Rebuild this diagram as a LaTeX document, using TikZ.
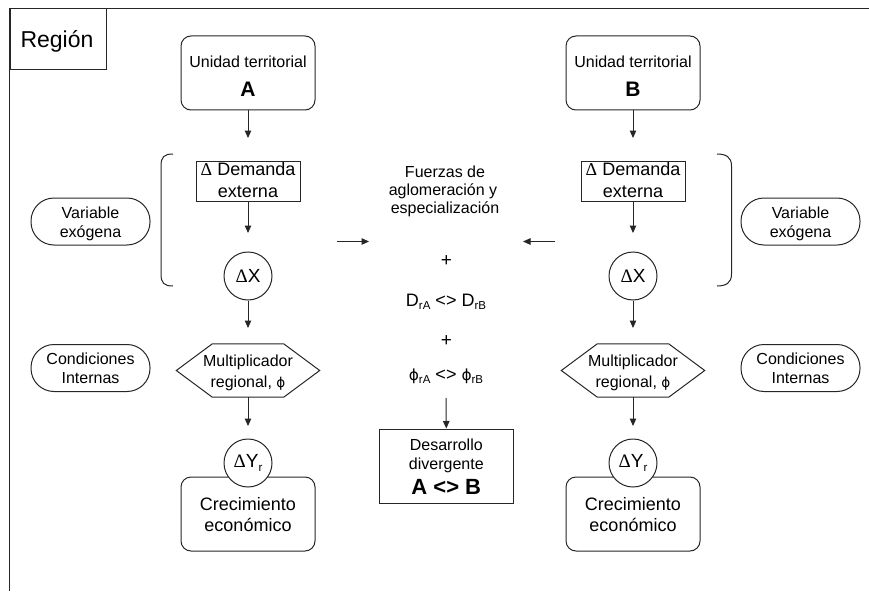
\documentclass[tikz,border=0pt]{standalone}
\usepackage{fontspec}
\setmainfont{Liberation Sans}
\newfontfamily\grkfont{Liberation Serif}
\newfontfamily\phifont{DejaVu Sans}
\usetikzlibrary{arrows.meta,calc}

\newcommand{\fsz}[1]{\fontsize{#1}{#1}\selectfont}
\newcommand{\myDelta}{{\grkfont Δ}}
\newcommand{\myPhi}{{\phifont\fontsize{0.85em}{1em}\selectfont ϕ}}
\newcommand{\lowsub}[1]{\raisebox{-3.5pt}{\fontsize{11.5}{11.5}\selectfont #1}}

\begin{document}
\begin{tikzpicture}[x=1pt,y=-1pt,
  ln/.style={line width=1pt,draw=black!85},
  arr/.style={ln,-{Triangle[length=7.5pt,width=6.5pt]}},
  unitbox/.style={ln,rounded corners=10pt,minimum width=134pt,minimum height=74pt,inner sep=0pt},
  sqbox/.style={ln,minimum width=104pt,minimum height=40pt,inner sep=0pt},
  pill/.style={ln,rounded corners=23pt,minimum width=119pt,minimum height=47pt,inner sep=0pt},
  crc/.style={ln,circle,fill=white,minimum size=48pt,inner sep=0pt,font=\fsz{19}},
  hexa/.style={minimum width=143pt,minimum height=53pt,inner sep=0pt},
  txt/.style={inner sep=0pt,anchor=base,font=\fsz{16}},
  big/.style={font=\fsz{18}},
]
\useasboundingbox (0,0) rectangle (869,591);

% frame of the region
\draw[ln] (869,8.5) -- (9.5,8.5) -- (9.5,591);
\node[ln,anchor=north west,minimum width=96pt,minimum height=61pt,inner sep=0pt] (reg) at (9.5,8.5) {};
\node[txt,font=\fsz{23}] (regt) at (57,48) {Región};

% ---------- column A ----------
\node[unitbox] (uA) at (248,73) {};
\node[txt] (uAt) at (248,68) {Unidad territorial};
\node[txt,font=\fsz{21}\bfseries] (uAl) at (248,97) {A};
\coordinate (dAin) at (248,138);
\draw[arr] (uA.south) -- (dAin);

\node[sqbox] (dA) at (248,181) {};
\node[txt,big] (dAt1) at (248,175) {\myDelta\ Demanda};
\node[txt,big] (dAt2) at (248,197) {externa};
\coordinate (xAin) at (248,233);
\draw[arr] (dA.south) -- (xAin);

\node[crc] (xA) at (248,276) {\myDelta X};
\coordinate (mAin) at (248,328);
\draw[arr] (xA.south) -- (mAin);

\node[hexa] (mA) at (248,370.5) {};
\draw[ln] (mA.west) -- ([xshift=36pt]mA.north west) -- ([xshift=-36pt]mA.north east)
  -- (mA.east) -- ([xshift=-36pt]mA.south east) -- ([xshift=36pt]mA.south west) -- cycle;
\node[txt] (mAt1) at (248,366) {Multiplicador};
\node[txt] (mAt2) at (248,387) {regional, \myPhi};
\coordinate (yAin) at (248,426);
\draw[arr] (mA.south) -- (yAin);

\node[unitbox] (cA) at (248,514) {};
\node[txt,big] (cAt1) at (248,510) {Crecimiento};
\node[txt,big] (cAt2) at (248,531) {económico};
\node[crc] (yA) at (248,463) {\myDelta Y\lowsub{r}};

% bracket and side labels A
\draw[ln] (173,154) .. controls (164,154) and (161,157) .. (161,166) -- (161,274)
  .. controls (161,283) and (164,286) .. (173,286);
\node[pill] (vA) at (90.5,221.5) {};
\node[txt] (vAt1) at (90.5,218) {Variable};
\node[txt] (vAt2) at (90.5,237) {exógena};
\node[pill] (ciA) at (90.5,368) {};
\node[txt] (ciAt1) at (90.5,364.5) {Condiciones};
\node[txt] (ciAt2) at (90.5,383) {Internas};

% ---------- column B ----------
\node[unitbox] (uB) at (633,73) {};
\node[txt] (uBt) at (633,68) {Unidad territorial};
\node[txt,font=\fsz{21}\bfseries] (uBl) at (633,97) {B};
\coordinate (dBin) at (633,138);
\draw[arr] (uB.south) -- (dBin);

\node[sqbox] (dB) at (633,181) {};
\node[txt,big] (dBt1) at (633,175) {\myDelta\ Demanda};
\node[txt,big] (dBt2) at (633,197) {externa};
\coordinate (xBin) at (633,233);
\draw[arr] (dB.south) -- (xBin);

\node[crc] (xB) at (633,276) {\myDelta X};
\coordinate (mBin) at (633,328);
\draw[arr] (xB.south) -- (mBin);

\node[hexa] (mB) at (633,370.5) {};
\draw[ln] (mB.west) -- ([xshift=36pt]mB.north west) -- ([xshift=-36pt]mB.north east)
  -- (mB.east) -- ([xshift=-36pt]mB.south east) -- ([xshift=36pt]mB.south west) -- cycle;
\node[txt] (mBt1) at (633,366) {Multiplicador};
\node[txt] (mBt2) at (633,387) {regional, \myPhi};
\coordinate (yBin) at (633,426);
\draw[arr] (mB.south) -- (yBin);

\node[unitbox] (cB) at (633,514) {};
\node[txt,big] (cBt1) at (633,510) {Crecimiento};
\node[txt,big] (cBt2) at (633,531) {económico};
\node[crc] (yB) at (633,463) {\myDelta Y\lowsub{r}};

% bracket and side labels B
\draw[ln] (717,154) .. controls (726,154) and (731.5,157) .. (731.5,166) -- (731.5,274)
  .. controls (731.5,283) and (726,286) .. (717,286);
\node[pill] (vB) at (800.5,221.5) {};
\node[txt] (vBt1) at (800.5,218) {Variable};
\node[txt] (vBt2) at (800.5,237) {exógena};
\node[pill] (ciB) at (800.5,368) {};
\node[txt] (ciBt1) at (800.5,364.5) {Condiciones};
\node[txt] (ciBt2) at (800.5,383) {Internas};

% ---------- centre ----------
\node[txt] (f1) at (445,177) {Fuerzas de};
\node[txt] (f2) at (443,195) {aglomeración y};
\node[txt] (f3) at (445,213) {especialización};
\coordinate (laS) at (337,241.5);
\coordinate (laE) at (369,241.5);
\draw[arr] (laS) -- (laE);
\coordinate (raS) at (555,241.5);
\coordinate (raE) at (523,241.5);
\draw[arr] (raS) -- (raE);
\node[txt,font=\fsz{19}] (p1) at (446.5,266) {+};
\node[txt,big] (drel) at (446,306) {D\lowsub{rA} <> D\lowsub{rB}};
\node[txt,font=\fsz{19}] (p2) at (446.5,346) {+};
\node[txt,big] (phrel) at (446,380) {\myPhi\lowsub{rA} <> \myPhi\lowsub{rB}};
\coordinate (dvS) at (446,398);
\node[ln,minimum width=134pt,minimum height=74pt,inner sep=0pt] (dv) at (446.3,466) {};
\draw[arr] (dvS) -- (dv.north);
\node[txt] (dvt1) at (446.3,450) {Desarrollo};
\node[txt] (dvt2) at (446.3,469) {divergente};
\node[txt,font=\fsz{22}\bfseries] (dvt3) at (446.3,494) {A <> B};
\end{tikzpicture}
\end{document}
